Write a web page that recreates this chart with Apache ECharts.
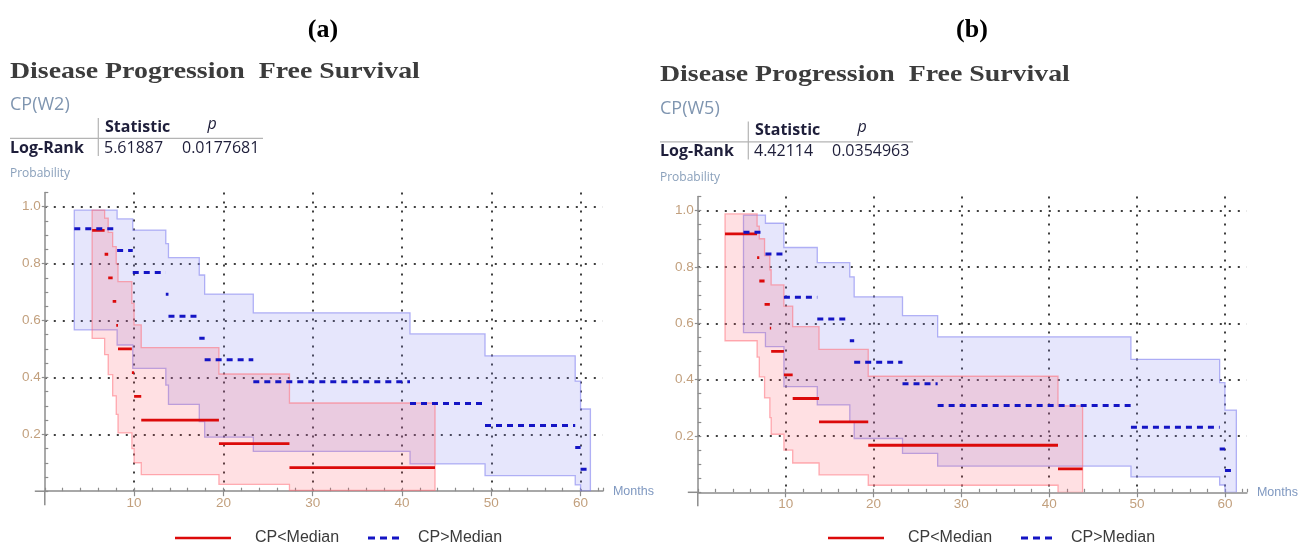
<!DOCTYPE html>
<html><head><meta charset="utf-8">
<script src="https://cdn.jsdelivr.net/npm/echarts@6/dist/echarts.min.js"></script>
<style>html,body{margin:0;padding:0;background:#fff}#c{width:1314px;height:549px}</style>
</head><body><div id="c"></div>
<script>
// ---------------- DATA ----------------
// Panel (a) CP(W2)
const aRedTimes  = [5.3, 6.7, 7.1, 7.6, 8.0, 8.2, 9.75, 10.0, 10.8, 19.5, 27.4];
const aRedSurv   = [0.917, 0.833, 0.750, 0.667, 0.583, 0.500, 0.417, 0.333, 0.250, 0.167, 0.083];
const aRedEnd    = 43.7;
const aRedUpper  = [0.988, 0.96, 0.91, 0.86, 0.80, 0.737, 0.66, 0.585, 0.505, 0.412, 0.310];
const aRedLower  = [0.537, 0.48, 0.41, 0.335, 0.27, 0.205, 0.15, 0.10, 0.058, 0.024, 0.003];

const aBlueTimes = [3.3, 8.1, 9.85, 13.55, 13.85, 17.3, 17.9, 23.35, 40.9, 49.3, 59.4, 60.0];
const aBlueSurv  = [0.923, 0.846, 0.769, 0.692, 0.615, 0.538, 0.462, 0.385, 0.308, 0.231, 0.154, 0.077];
const aBlueEnd   = 60.7;
const aBlueBandEnd = 61.1;
const aBlueUpper = [0.988, 0.957, 0.918, 0.87, 0.821, 0.76, 0.693, 0.627, 0.553, 0.476, 0.387, 0.289];
const aBlueLower = [0.567, 0.514, 0.432, 0.373, 0.305, 0.245, 0.19, 0.14, 0.096, 0.055, 0.022, 0.0];

// Panel (b) CP(W5)
const bRedTimes  = [3.1, 6.75, 7.0, 7.6, 8.2, 8.35, 9.8, 10.8, 13.8, 19.4, 41.0];
const bRedSurv   = [0.917, 0.833, 0.750, 0.667, 0.583, 0.500, 0.417, 0.333, 0.250, 0.167, 0.083];
const bRedEnd    = 43.8;
const bRedUpper  = [0.988, 0.945, 0.90, 0.84, 0.79, 0.736, 0.661, 0.588, 0.507, 0.412, 0.307];
const bRedLower  = [0.538, 0.48, 0.41, 0.335, 0.265, 0.206, 0.15, 0.104, 0.062, 0.025, 0.0];

const bBlueTimes = [5.2, 7.7, 9.8, 13.6, 17.3, 17.8, 23.3, 27.3, 49.3, 59.4, 60.0];
const bBlueSurv  = [0.923, 0.846, 0.692, 0.615, 0.538, 0.462, 0.385, 0.308, 0.231, 0.154, 0.077];
const bBlueEnd   = 60.8;
const bBlueBandEnd = 61.3;
const bBlueUpper = [0.984, 0.955, 0.869, 0.815, 0.765, 0.694, 0.627, 0.552, 0.472, 0.389, 0.292];
const bBlueLower = [0.567, 0.517, 0.375, 0.31, 0.25, 0.191, 0.138, 0.093, 0.055, 0.026, 0.0];

// Texts
const panelLabels = ['(a)', '(b)'];
const chartTitle = 'Disease Progression  Free Survival';
const cpNames = ['CP(W2)', 'CP(W5)'];
const statValues = ['5.61887', '4.42114'];
const pValues = ['0.0177681', '0.0354963'];
const seriesNames = ['CP<Median', 'CP>Median'];

// Axis settings
const xMin = 0, xMax = 62.5, xMajor = 10, xMinor = 2;
const yMin = 0, yMax = 1.05, yMajor = 0.2, yMinor = 0.05;

// ---------------- BUILD ----------------
function stepSegments(times, surv, end) {
  const out = [];
  for (let i = 0; i < times.length; i++) {
    const t1 = i + 1 < times.length ? times[i + 1] : end;
    out.push([times[i], surv[i]], [t1, surv[i]], ['-', '-']);
  }
  return out;
}
function bandSeries(axisIdx, times, upper, lower, end, fill, stroke) {
  const data = times.map((t, i) => [t, i + 1 < times.length ? times[i + 1] : end, upper[i], lower[i]]);
  return {
    type: 'custom', xAxisIndex: axisIdx, yAxisIndex: axisIdx, silent: true, clip: true, z: 1,
    encode: { x: [0, 1], y: [2, 3] }, data,
    renderItem(params, api) {
      if (params.dataIndex !== 0) return null;
      const n = data.length, top = [], bot = [];
      for (let i = 0; i < n; i++) {
        const t0 = api.value(0, i), t1 = api.value(1, i), u = api.value(2, i), l = api.value(3, i);
        top.push(api.coord([t0, u]), api.coord([t1, u]));
        bot.push(api.coord([t0, l]), api.coord([t1, l]));
      }
      return { type: 'polygon', shape: { points: top.concat(bot.reverse()) },
        style: { fill, stroke, lineWidth: 1.3 } };
    }
  };
}
const redCol = '#dc0a0a', blueCol = '#1414c4';
const redFill = 'rgba(255,70,90,0.17)', redStroke = 'rgba(255,110,120,0.55)';
const blueFill = 'rgba(120,120,240,0.19)', blueStroke = 'rgba(130,130,240,0.6)';

function kmLine(axisIdx, name, times, surv, end, color, dashed) {
  return {
    type: 'line', name, xAxisIndex: axisIdx, yAxisIndex: axisIdx, z: 5,
    data: stepSegments(times, surv, end), showSymbol: false, symbol: 'none',
    connectNulls: false, silent: true,
    lineStyle: { color, width: dashed ? 3 : 2.8, type: dashed ? [6, 5] : 'solid', cap: 'butt' }
  };
}

const grids = [
  { left: 44.8, top: 192.5, width: 558.1, height: 298.7 },
  { left: 697.8, top: 196.5, width: 549.1, height: 295.8 }
];
const tickCol = '#c2a07e', axisCol = '#8c8c8c', nameCol = '#7f98c0';
const gridLine = { color: '#3e3e3e', width: 2, type: [2, 7] };
const xAxes = [], yAxes = [];
grids.forEach((g, i) => {
  xAxes.push({
    type: 'value', gridIndex: i, position: 'bottom', min: xMin, max: xMax, interval: xMajor,
    name: 'Months', nameLocation: 'end', nameGap: 10,
    nameTextStyle: { color: nameCol, fontSize: 12.5, fontFamily: 'Liberation Sans', align: 'left', verticalAlign: 'middle' },
    axisLine: { show: true, onZero: false, lineStyle: { color: axisCol, width: 1.5 } },
    axisTick: { show: true, inside: false, length: 5, lineStyle: { color: axisCol, width: 1.2 } },
    axisLabel: { show: true, showMinLabel: false, showMaxLabel: false, color: tickCol, fontSize: 13.5,
      fontFamily: 'Liberation Sans', margin: 5, formatter: v => String(v) },
    splitLine: { show: true, showMinLine: false, showMaxLine: false, lineStyle: gridLine }
  });
  xAxes.push({
    type: 'value', gridIndex: i, position: 'bottom', min: xMin, max: xMax, interval: xMinor,
    axisLine: { show: false, onZero: false }, axisLabel: { show: false }, splitLine: { show: false },
    axisTick: { show: true, inside: true, length: 3.5, lineStyle: { color: axisCol, width: 1.2 } }
  });
  yAxes.push({
    type: 'value', gridIndex: i, position: 'left', min: yMin, max: yMax, interval: yMajor,
    axisLine: { show: true, onZero: false, lineStyle: { color: axisCol, width: 1.5 } },
    axisTick: { show: true, inside: false, length: 3, lineStyle: { color: axisCol, width: 1.2 } },
    axisLabel: { show: true, showMinLabel: false, showMaxLabel: false, color: tickCol, fontSize: 13.5,
      fontFamily: 'Liberation Sans', margin: 4, formatter: v => v.toFixed(1) },
    splitLine: { show: true, showMinLine: false, showMaxLine: false, lineStyle: gridLine }
  });
  yAxes.push({
    type: 'value', gridIndex: i, position: 'left', min: yMin, max: yMax, interval: yMinor,
    axisLine: { show: false, onZero: false }, axisLabel: { show: false }, splitLine: { show: false },
    axisTick: { show: true, inside: true, length: 3.5, lineStyle: { color: axisCol, width: 1.2 } }
  });
});

// axis index of the main axes: grid a -> 0, grid b -> 2
const series = [
  bandSeries(0, aBlueTimes, aBlueUpper, aBlueLower, aBlueBandEnd, blueFill, blueStroke),
  bandSeries(0, aRedTimes, aRedUpper, aRedLower, aRedEnd, redFill, redStroke),
  kmLine(0, seriesNames[0], aRedTimes, aRedSurv, aRedEnd, redCol, false),
  kmLine(0, seriesNames[1], aBlueTimes, aBlueSurv, aBlueEnd, blueCol, true),
  bandSeries(2, bBlueTimes, bBlueUpper, bBlueLower, bBlueBandEnd, blueFill, blueStroke),
  bandSeries(2, bRedTimes, bRedUpper, bRedLower, bRedEnd, redFill, redStroke),
  kmLine(2, seriesNames[0], bRedTimes, bRedSurv, bRedEnd, redCol, false),
  kmLine(2, seriesNames[1], bBlueTimes, bBlueSurv, bBlueEnd, blueCol, true)
];

// ---------------- TEXT / DECORATIONS ----------------
const serif = '"Liberation Serif", "DejaVu Serif", serif';
const sans = '"Open Sans", "Noto Sans", sans-serif';
function txt(text, x, y, opts, extra) {
  return Object.assign({ type: 'text', silent: true, style: Object.assign({ text, x, y, align: 'left', verticalAlign: 'middle',
    fontFamily: sans, fontSize: 16, fill: '#222' }, opts) }, extra || {});
}
function ln(x1, y1, x2, y2, stroke, lineWidth, dash) {
  return { type: 'line', silent: true, shape: { x1, y1, x2, y2 },
    style: { stroke, lineWidth, lineDash: dash || null } };
}
const graphics = [];
const headerPos = [{ dx: 0, dy: 0, lab: 323 }, { dx: 650, dy: 3.5, lab: 972 }];
headerPos.forEach((h, i) => {
  const dx = h.dx, dy = h.dy;
  graphics.push(txt(panelLabels[i], h.lab, 30, { align: 'center', fontFamily: serif, fontWeight: 'bold', fontSize: 26, fill: '#000' }));
  // title: horizontally stretched bold serif
  graphics.push(txt(chartTitle, 0, 0, { fontFamily: serif, fontWeight: 'bold', fontSize: 24, fill: '#3c3c3c' },
    { x: 10 + dx, y: 71.5 + dy, scaleX: 1.16, scaleY: 1 }));
  graphics.push(txt(cpNames[i], 10 + dx, 105 + dy, { fontSize: 18, fill: '#7f95b0' }));
  graphics.push(txt('Statistic', 105 + dx, 127 + dy, { fontWeight: 'bold', fill: '#1e1e3a' }));
  graphics.push(txt('p', 212 + dx, 124 + dy, { align: 'center', fontStyle: 'italic', fill: '#1e1e3a' }));
  graphics.push(ln(10 + dx, 138.3 + dy, 263 + dx, 138.3 + dy, '#b4b4b4', 1.2));
  graphics.push(ln(98.3 + dx, 118 + dy, 98.3 + dx, 156 + dy, '#b4b4b4', 1.2));
  graphics.push(txt('Log-Rank', 10 + dx, 148 + dy, { fontWeight: 'bold', fill: '#1e1e3a' }, { scaleX: 1 }));
  graphics.push(txt(statValues[i], 104 + dx, 148 + dy, { fill: '#1e1e3a' }));
  graphics.push(txt(pValues[i], 182 + dx, 148 + dy, { fill: '#1e1e3a' }));
  graphics.push(txt('Probability', 10 + dx, 174 + dy, { fontSize: 12, fill: '#8aa0bb' }));
});
// axis overhangs at the origin (frame style)
grids.forEach(g => {
  const ox = g.left, oy = g.top + g.height;
  graphics.push(ln(ox - 10, oy, ox, oy, axisCol, 1.5));
  graphics.push(ln(ox, oy, ox, oy + 14, axisCol, 1.5));
});
const legendPos = [0, 653];
legendPos.forEach(dx => {
  graphics.push(ln(175 + dx, 538, 231 + dx, 538, redCol, 2.6));
  graphics.push(txt(seriesNames[0], 255 + dx, 538, { fontFamily: '"Liberation Sans", Arial, sans-serif', fontSize: 16, fill: '#3a3a3a' }));
  graphics.push(ln(368 + dx, 538, 400 + dx, 538, blueCol, 3, [7, 5]));
  graphics.push(txt(seriesNames[1], 418 + dx, 538, { fontFamily: '"Liberation Sans", Arial, sans-serif', fontSize: 16, fill: '#3a3a3a' }));
});

const chart = echarts.init(document.getElementById('c'), null, { renderer: 'canvas' });
chart.setOption({
  animation: false,
  backgroundColor: '#ffffff',
  grid: grids.map(g => Object.assign({ outerBoundsMode: 'none', containLabel: false }, g)),
  xAxis: xAxes,
  yAxis: yAxes,
  series,
  graphic: graphics
});
</script></body></html>
